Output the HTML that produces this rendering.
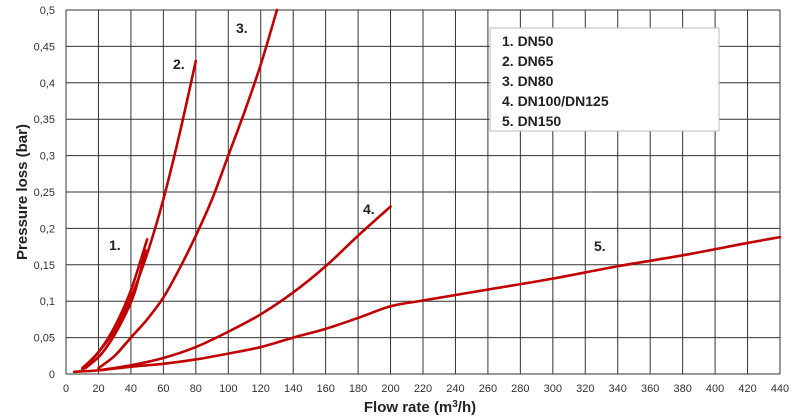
<!DOCTYPE html>
<html><head><meta charset="utf-8"><style>
body{margin:0;background:#fff;}
svg{font-family:"Liberation Sans",sans-serif;display:block;}
</style></head><body>
<svg id="chart" width="800" height="420">
<g id="grid"></g>
<g id="ticks"></g>
<g id="series"></g>
<g font-weight="bold" font-size="14" fill="#222">
<text x="109" y="250">1.</text>
<text x="173" y="69">2.</text>
<text x="236" y="33">3.</text>
<text x="363" y="214">4.</text>
<text x="594" y="251">5.</text>
</g>
<g>
<rect x="490" y="28" width="229" height="103" fill="#fff" stroke="#bbb"/>
<g font-weight="bold" font-size="14" fill="#222">
<text x="502" y="46">1. DN50</text>
<text x="502" y="66">2. DN65</text>
<text x="502" y="86">3. DN80</text>
<text x="502" y="106">4. DN100/DN125</text>
<text x="502" y="126">5. DN150</text>
</g></g>
<text x="420" y="412" text-anchor="middle" font-weight="bold" font-size="15" fill="#222">Flow rate (m<tspan font-size="10" dy="-5">3</tspan><tspan dy="5">/h)</tspan></text>
<text transform="translate(27,192) rotate(-90)" text-anchor="middle" font-weight="bold" font-size="15" fill="#222">Pressure loss (bar)</text>
</svg>
<script>
const xTicks=[0,20,40,60,80,100,120,140,160,180,200,220,240,260,280,300,320,340,360,380,400,420,440];
const yTicks=[0,0.05,0.1,0.15,0.2,0.25,0.3,0.35,0.4,0.45,0.5];
const yTickLabels=["0","0,05","0,1","0,15","0,2","0,25","0,3","0,35","0,4","0,45","0,5"];
const s1x=[10,20,30,40,50];
const s1y=[0.008,0.03,0.065,0.115,0.185];
const s1bx=[12,22,32,42,49];
const s1by=[0.008,0.028,0.062,0.11,0.17];
const s2x=[10,20,30,40,50,60,70,80];
const s2y=[0.005,0.03,0.06,0.105,0.165,0.24,0.33,0.43];
const s3x=[20,30,40,50,60,70,80,90,100,110,120,130];
const s3y=[0.008,0.025,0.05,0.075,0.105,0.145,0.19,0.24,0.3,0.36,0.425,0.5];
const s4x=[20,40,60,80,100,120,140,160,180,200];
const s4y=[0.005,0.012,0.022,0.037,0.058,0.082,0.112,0.148,0.19,0.23];
const s5x=[5,20,40,60,80,100,120,140,160,180,200,220,260,300,340,380,420,440];
const s5y=[0.003,0.005,0.01,0.014,0.02,0.028,0.037,0.05,0.062,0.077,0.093,0.101,0.116,0.131,0.148,0.163,0.18,0.188];
const X0=66,X1=780,Y0=374,Y1=10;
function sx(v){return X0+(v/440)*(X1-X0);}
function sy(v){return Y0-(v/0.5)*(Y0-Y1);}
const NS="http://www.w3.org/2000/svg";
const grid=document.getElementById('grid'),ticks=document.getElementById('ticks'),ser=document.getElementById('series');
function mk(t,a,p){const e=document.createElementNS(NS,t);for(const k in a)e.setAttribute(k,a[k]);p.appendChild(e);return e;}
xTicks.forEach(v=>{
 const l=mk('line',{x1:sx(v),x2:sx(v),y1:Y1,y2:Y0,stroke:'#333','stroke-width':1},grid);
 
 
 const t=mk('text',{x:sx(v),y:392,'text-anchor':'middle','font-size':11,fill:'#333'},ticks);
 t.textContent=v;
 
 
});
yTicks.forEach((v,i)=>{
 const l=mk('line',{x1:X0,x2:X1,y1:sy(v),y2:sy(v),stroke:'#333','stroke-width':1},grid);
 
 
 const t=mk('text',{x:55,y:sy(v)+4,'text-anchor':'end','font-size':11,fill:'#333'},ticks);
 t.textContent=yTickLabels[i];
 
 
});
function path(xs,ys){
 const p=xs.map((x,i)=>[sx(x),sy(ys[i])]);
 let d='M'+p[0][0]+','+p[0][1];
 for(let i=0;i<p.length-1;i++){
  const p0=p[i-1]||p[i],p1=p[i],p2=p[i+1],p3=p[i+2]||p2;
  const c1x=p1[0]+(p2[0]-p0[0])/6,c1y=p1[1]+(p2[1]-p0[1])/6;
  const c2x=p2[0]-(p3[0]-p1[0])/6,c2y=p2[1]-(p3[1]-p1[1])/6;
  d+=` C${c1x},${c1y} ${c2x},${c2y} ${p2[0]},${p2[1]}`;
 }
 return d;
}
[[s1x,s1y,'series-dn50'],[s1bx,s1by,'series-dn50-b'],[s2x,s2y,'series-dn65'],[s3x,s3y,'series-dn80'],[s4x,s4y,'series-dn100-dn125'],[s5x,s5y,'series-dn150']].forEach(s=>{
 const e=mk('path',{d:path(s[0],s[1]),fill:'none',stroke:'#c00000','stroke-width':2.6,'stroke-linecap':'round'},ser);
 
 
});
</script>
</body></html>
